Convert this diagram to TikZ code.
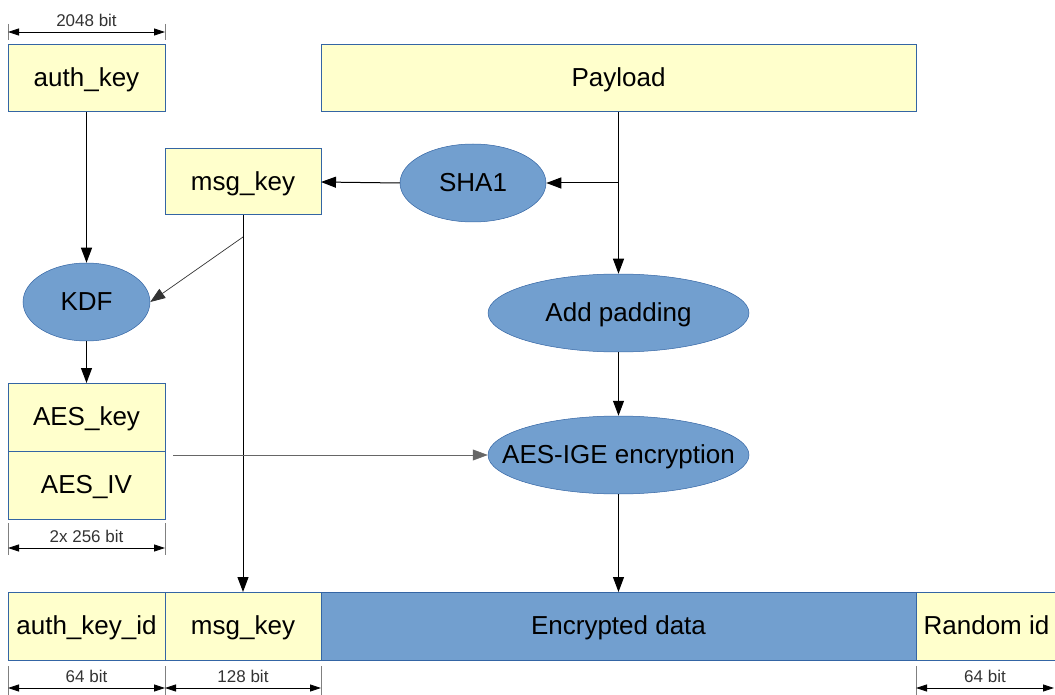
\documentclass[tikz,border=0pt]{standalone}
\usepackage{fontspec}
\setmainfont{Liberation Sans}
\usetikzlibrary{arrows.meta, positioning, calc, shapes.geometric}
\definecolor{fieldyellow}{RGB}{255,255,204}
\definecolor{fieldblue}{RGB}{52,101,164}
\definecolor{skyblue}{RGB}{114,159,207}
\definecolor{dimgrey}{RGB}{51,51,51}

\begin{document}
\begin{tikzpicture}[x=1pt, y=-1pt,
  field/.style={draw=fieldblue, line width=1pt, fill=fieldyellow, inner sep=0pt, outer sep=0pt,
    minimum height=67pt, text height=18pt, text depth=1pt, font=\fontsize{26}{30}\selectfont},
  blob/.style={ellipse, draw=fieldblue, line width=0.5pt, fill=skyblue, inner sep=0pt,
    minimum height=78pt, text height=18pt, text depth=1pt, font=\fontsize{26}{30}\selectfont},
  flow/.style={line width=1pt, -{Triangle[length=15pt, width=11pt]}},
  dimline/.style={line width=0.8pt, {Triangle[length=11pt, width=7pt]}-{Triangle[length=11pt, width=7pt]}},
  dimtick/.style={draw=gray, line width=0.6pt},
  dimlabel/.style={font=\fontsize{17}{19}\selectfont, text=dimgrey, above=2pt}]
  \useasboundingbox (0,0) rectangle (1055,695);

  % top row
  \node[field, minimum width=157pt] (authkey) at (86.5,78.5) {auth\_key};
  \node[field, minimum width=595pt] (payload) at (618.5,78.5) {Payload};
  \node[field, minimum width=156pt, minimum height=66pt] (msgkey) at (243,182) {msg\_key};

  % operations
  \node[blob, minimum width=146pt] (sha) at (473,183) {SHA1};
  \node[blob, minimum width=127pt] (kdf) at (86.5,302) {KDF};
  \node[blob, minimum width=261pt] (pad) at (618.5,313) {Add padding};
  \node[blob, minimum width=261pt, inner xsep=-30pt] (ige) at (618.5,455) {AES-IGE encryption};

  % key and iv
  \node[field, minimum width=157pt, minimum height=68pt] (aeskey) at (86.5,417) {AES\_key};
  \node[field, minimum width=157pt, minimum height=68pt, below=0pt of aeskey] (aesiv) {AES\_IV};

  % message layout
  \node[field, minimum width=157pt, minimum height=68pt] (akid) at (86.5,626) {auth\_key\_id};
  \node[field, minimum width=156pt, minimum height=68pt, right=0pt of akid] (bmsg) {msg\_key};
  \node[field, fill=skyblue, minimum width=595pt, minimum height=68pt, right=0pt of bmsg] (enc) {Encrypted data};
  \node[field, minimum width=141pt, minimum height=68pt, right=0pt of enc] (rnd) {Random id};

  % connectors
  \coordinate (paysplit) at (payload.south |- sha.east);
  \coordinate (msgsplit) at ($(msgkey.south)+(0,22)$);
  \coordinate (aesout) at ($(aeskey.south east)+(8,4)$);
  \draw[flow] (authkey.south) -- (kdf.north);
  \draw[flow] (payload.south) -- (pad.north);
  \draw[flow] (paysplit) -- (sha.east);
  \draw[flow] (sha.west) -- (msgkey.east);
  \draw[flow] (msgkey.south) -- (bmsg.north);
  \draw[flow, line width=0.7pt, black!80] (msgsplit) -- (kdf.east);
  \draw[flow] (kdf.south) -- (aeskey.north);
  \draw[flow] (pad.south) -- (ige.north);
  \draw[flow, line width=0.6pt, black!60] (aesout) -- (ige.west);
  \draw[flow] (ige.south) -- (enc.north);

  % sizes
  \draw[dimtick] ($(authkey.north west)+(0,-21)$) -- ($(authkey.north west)+(0,-5)$);
  \draw[dimtick] ($(authkey.north east)+(0,-21)$) -- ($(authkey.north east)+(0,-5)$);
  \draw[dimline] ($(authkey.north west)+(0,-13)$) -- node[dimlabel] (bitsauth) {2048 bit} ($(authkey.north east)+(0,-13)$);

  \draw[dimtick] ($(aesiv.south west)+(0,4)$) -- ($(aesiv.south west)+(0,36)$);
  \draw[dimtick] ($(aesiv.south east)+(0,4)$) -- ($(aesiv.south east)+(0,36)$);
  \draw[dimline] ($(aesiv.south west)+(0,29)$) -- node[dimlabel] (bitsaes) {2x 256 bit} ($(aesiv.south east)+(0,29)$);

  \draw[dimtick] ($(akid.south west)+(0,6)$) -- ($(akid.south west)+(0,36)$);
  \draw[dimtick] ($(akid.south east)+(0,6)$) -- ($(akid.south east)+(0,36)$);
  \draw[dimtick] ($(bmsg.south east)+(0,6)$) -- ($(bmsg.south east)+(0,36)$);
  \draw[dimtick] ($(rnd.south west)+(0,6)$) -- ($(rnd.south west)+(0,36)$);
  \draw[dimline] ($(akid.south west)+(0,28)$) -- node[dimlabel] (bitsakid) {64 bit} ($(akid.south east)+(0,28)$);
  \draw[dimline] ($(bmsg.south west)+(0,28)$) -- node[dimlabel] (bitsmsg) {128 bit} ($(bmsg.south east)+(0,28)$);
  \draw[dimline] ($(rnd.south west)+(0,28)$) -- node[dimlabel] (bitsrnd) {64 bit} ($(rnd.south east)+(-3,28)$);
\end{tikzpicture}
\end{document}
